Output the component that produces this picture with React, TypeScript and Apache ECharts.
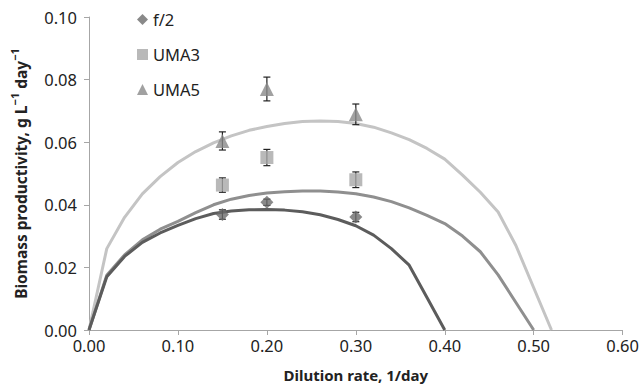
import React, { useEffect, useRef } from "react";
import * as echarts from "echarts";

const curveX = [0, 0.02, 0.04, 0.06, 0.08, 0.1, 0.12, 0.14, 0.16, 0.18, 0.2, 0.22, 0.24, 0.26, 0.28, 0.3, 0.32, 0.34, 0.36, 0.38, 0.4, 0.42, 0.44, 0.46, 0.48, 0.5, 0.52];
const f2Curve = [0, 0.017, 0.0235, 0.028, 0.031, 0.0334, 0.0356, 0.0372, 0.038, 0.0384, 0.0385, 0.0383, 0.0378, 0.0368, 0.0353, 0.0333, 0.0303, 0.026, 0.0207, 0.0104, 0];
const uma3Curve = [0, 0.0175, 0.024, 0.0288, 0.0322, 0.0347, 0.0375, 0.04, 0.0418, 0.043, 0.0438, 0.0442, 0.0444, 0.0444, 0.0441, 0.0435, 0.0425, 0.041, 0.039, 0.0366, 0.034, 0.03, 0.025, 0.0176, 0.0088, 0];
const uma5Curve = [0, 0.026, 0.036, 0.0435, 0.049, 0.0535, 0.057, 0.0598, 0.062, 0.0638, 0.065, 0.066, 0.0666, 0.0668, 0.0666, 0.066, 0.0648, 0.063, 0.0608, 0.058, 0.0546, 0.0495, 0.044, 0.0377, 0.027, 0.0135, 0];

const pointX = [0.15, 0.2, 0.3];
const f2Points = [0.0369, 0.0408, 0.0361];
const f2Err = [0.0015, 0.001, 0.0015];
const uma3Points = [0.0463, 0.0551, 0.048];
const uma3Err = [0.0023, 0.0026, 0.0025];
const uma5Points = [0.0604, 0.077, 0.0689];
const uma5Err = [0.0029, 0.0038, 0.0033];

const yTicks = [0, 0.02, 0.04, 0.06, 0.08, 0.1];
const xTicks = [0, 0.1, 0.2, 0.3, 0.4, 0.5, 0.6];

const FONT = "'Noto Sans', sans-serif";

function pairs(xs: number[], ys: number[]) {
  return ys.map((y, i) => [xs[i], y]);
}

function errData(ys: number[], es: number[]) {
  return ys.map((y, i) => [pointX[i], y - es[i], y + es[i]]);
}

function errorSeries(name: string, ys: number[], es: number[]) {
  return {
    type: "custom",
    name,
    z: 3,
    silent: true,
    data: errData(ys, es),
    renderItem: (params: any, api: any) => {
      const x = api.value(0);
      const lo = api.coord([x, api.value(1)]);
      const hi = api.coord([x, api.value(2)]);
      const w = 3.5;
      const style = { stroke: "#222", lineWidth: 1.2 };
      return {
        type: "group",
        children: [
          { type: "line", shape: { x1: lo[0], y1: lo[1], x2: hi[0], y2: hi[1] }, style },
          { type: "line", shape: { x1: lo[0] - w, y1: lo[1], x2: lo[0] + w, y2: lo[1] }, style },
          { type: "line", shape: { x1: hi[0] - w, y1: hi[1], x2: hi[0] + w, y2: hi[1] }, style },
        ],
      };
    },
  };
}

export default function App() {
  const ref = useRef<HTMLDivElement>(null);
  useEffect(() => {
    if (!ref.current) return;
    const chart = echarts.init(ref.current, null, { renderer: "svg" });
    chart.setOption({
      animation: false,
      backgroundColor: "#fff",
      grid: { left: 89, right: 19, top: 17, bottom: 55 },
      legend: {
        data: ["f/2", "UMA3", "UMA5"],
        orient: "vertical",
        left: 132,
        top: 5,
        itemGap: 16,
        itemWidth: 11,
        itemHeight: 11,
        textStyle: { fontFamily: FONT, fontSize: 16.5, color: "#222", lineHeight: 19 },
      },
      xAxis: {
        type: "value",
        min: 0,
        max: 0.6,
        interval: 0.1,
        name: "Dilution rate, 1/day",
        nameLocation: "middle",
        nameGap: 37,
        nameTextStyle: { fontFamily: FONT, fontSize: 15, fontWeight: "bold", color: "#222" },
        axisLine: { lineStyle: { color: "#a6a6a6", width: 1 } },
        axisTick: { show: true, length: 5, lineStyle: { color: "#a6a6a6" } },
        axisLabel: {
          fontFamily: FONT,
          fontSize: 16.5,
          color: "#222",
          margin: 7,
          formatter: (v: number) => (xTicks.some((t) => Math.abs(t - v) < 1e-9) ? v.toFixed(2) : ""),
        },
        splitLine: { show: false },
      },
      yAxis: {
        type: "value",
        min: 0,
        max: 0.1,
        interval: 0.02,
        name: "{b|Biomass productivity, g L}{s|\u22121}{b| day}{s|\u22121}",
        nameLocation: "middle",
        nameGap: 60,
        nameTextStyle: {
          fontFamily: FONT,
          fontSize: 15.5,
          fontWeight: "bold",
          color: "#222",
          rich: {
            b: { fontFamily: FONT, fontSize: 15.5, fontWeight: "bold", color: "#222", lineHeight: 20, verticalAlign: "bottom" },
            s: { fontFamily: FONT, fontSize: 11, fontWeight: "bold", color: "#222", lineHeight: 20, verticalAlign: "top", padding: [0, 0, 8, 0] },
          },
        },
        axisLine: { show: true, lineStyle: { color: "#a6a6a6", width: 1 } },
        axisTick: { show: true, length: 5, lineStyle: { color: "#a6a6a6" } },
        axisLabel: {
          fontFamily: FONT,
          fontSize: 16.5,
          color: "#222",
          margin: 12,
          formatter: (v: number) => (yTicks.some((t) => Math.abs(t - v) < 1e-9) ? v.toFixed(2) : ""),
        },
        splitLine: { show: false },
      },
      series: [
        {
          type: "line",
          name: "fit-UMA5",
          data: pairs(curveX, uma5Curve),
          showSymbol: false,
          symbol: "none",
          lineStyle: { color: "#c4c4c4", width: 3 },
          z: 2,
        },
        {
          type: "line",
          name: "fit-UMA3",
          data: pairs(curveX, uma3Curve),
          showSymbol: false,
          symbol: "none",
          lineStyle: { color: "#8f8f8f", width: 3 },
          z: 2,
        },
        {
          type: "line",
          name: "fit-f/2",
          data: pairs(curveX, f2Curve),
          showSymbol: false,
          symbol: "none",
          lineStyle: { color: "#5c5c5c", width: 3 },
          z: 2,
        },
        errorSeries("err-f/2", f2Points, f2Err),
        errorSeries("err-UMA3", uma3Points, uma3Err),
        errorSeries("err-UMA5", uma5Points, uma5Err),
        {
          type: "scatter",
          name: "f/2",
          data: pairs(pointX, f2Points),
          symbol: "diamond",
          symbolSize: 13,
          itemStyle: { color: "#6b6b6b" },
          z: 4,
        },
        {
          type: "scatter",
          name: "UMA3",
          data: pairs(pointX, uma3Points),
          symbol: "rect",
          symbolSize: 13,
          itemStyle: { color: "#a8a8a8" },
          z: 4,
        },
        {
          type: "scatter",
          name: "UMA5",
          data: pairs(pointX, uma5Points),
          symbol: "triangle",
          symbolSize: 14,
          itemStyle: { color: "#8a8a8a" },
          z: 4,
        },
      ],
    });
    return () => chart.dispose();
  }, []);
  return <div ref={ref} style={{ width: 642, height: 387, position: "absolute", left: 0, top: 0 }} />;
}
